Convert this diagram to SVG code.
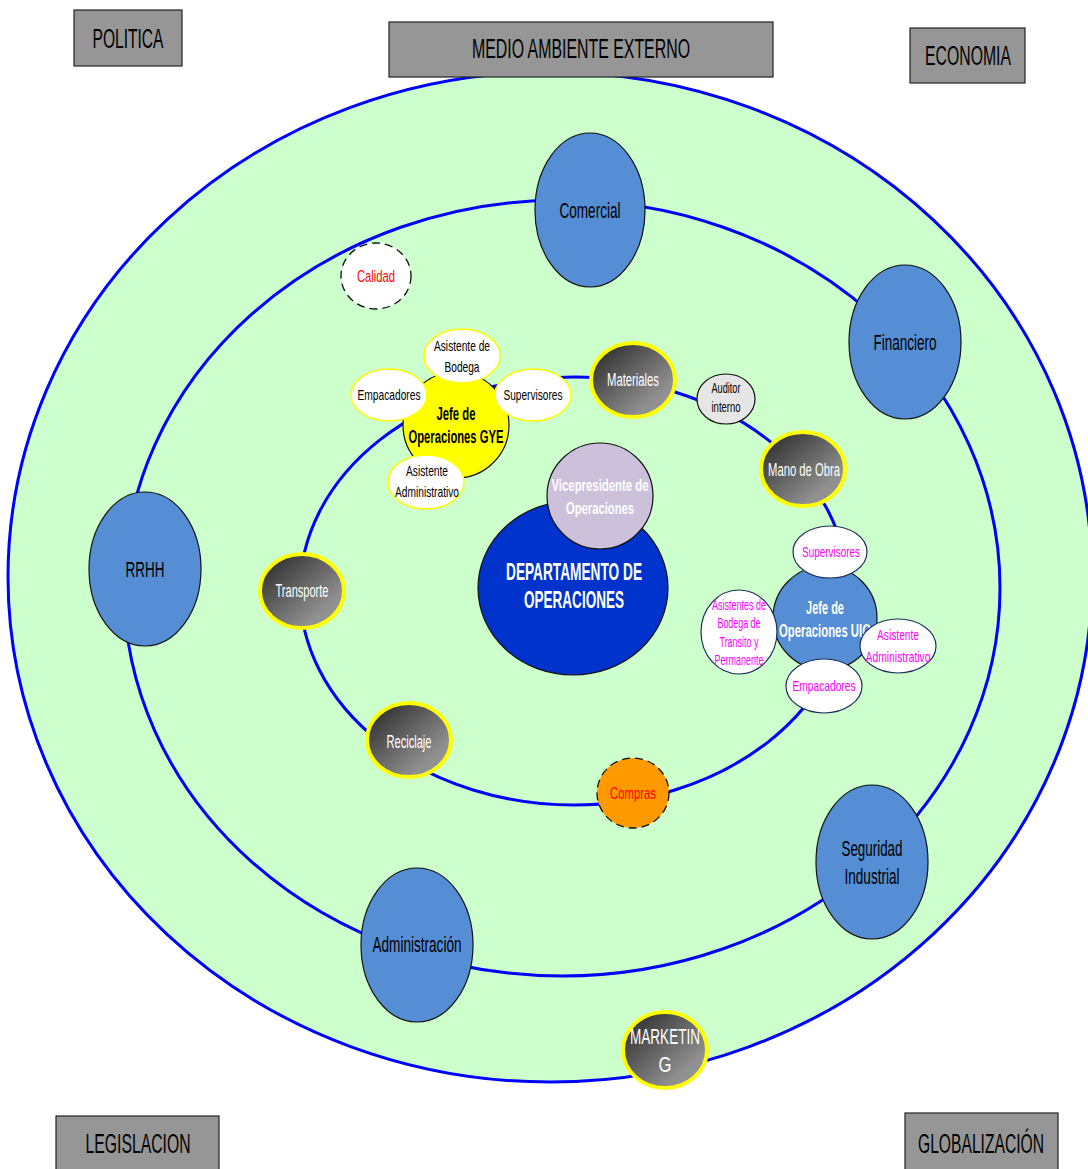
<svg xmlns="http://www.w3.org/2000/svg" width="1088" height="1169" viewBox="0 0 1088 1169">
<defs>
<linearGradient id="dark" x1="0" y1="0" x2="1" y2="1">
<stop offset="0" stop-color="#222"/>
<stop offset="0.75" stop-color="#8f8f8f"/>
<stop offset="1" stop-color="#9a9a9a"/>
</linearGradient>
<style>
text{font-family:"Liberation Sans",Arial,sans-serif;text-anchor:middle}
.box{fill:#969696;stroke:#222;stroke-width:1.2}
.bt{font-size:27px;fill:#000}
.orbit{fill:none;stroke:#0000ff;stroke-width:3}
.blue{fill:#558ed5;stroke:#111;stroke-width:1.2}
.bl{font-size:22px;fill:#000}
.dk{fill:url(#dark);stroke:#ffff00;stroke-width:4}
.dt{font-size:18px;fill:#fff}
.ys{fill:#fff;stroke:#ffff00;stroke-width:1.5}
.yt{font-size:15px;fill:#000}
.us{fill:#fff;stroke:#1f2f5f;stroke-width:1.2}
.ut{font-size:15px;fill:#ff00ff}
.dash{stroke:#111;stroke-width:1.3;stroke-dasharray:8 5}
</style>
</defs>
<rect width="1088" height="1169" fill="#fff"/>
<g id="connectors">
<ellipse cx="550" cy="577" rx="542" ry="505" fill="#ccffcc" stroke="#0000ff" stroke-width="3"/>
<ellipse class="orbit" cx="562" cy="588" rx="438" ry="388"/>
<ellipse class="orbit" cx="574" cy="591" rx="274" ry="214"/>
</g>
<g id="politica"><rect class="box" x="74" y="10" width="108" height="56"/><text class="bt" x="128" y="48" textLength="71" lengthAdjust="spacingAndGlyphs">POLITICA</text></g>
<g id="medio"><rect class="box" x="389" y="22" width="384" height="55"/><text class="bt" x="581" y="58" textLength="218" lengthAdjust="spacingAndGlyphs">MEDIO AMBIENTE EXTERNO</text></g>
<g id="economia"><rect class="box" x="910" y="28" width="115" height="55"/><text class="bt" x="968" y="65" textLength="86" lengthAdjust="spacingAndGlyphs">ECONOMIA</text></g>
<g id="legislacion"><rect class="box" x="56" y="1116" width="163" height="56"/><text class="bt" x="138" y="1153" textLength="105" lengthAdjust="spacingAndGlyphs">LEGISLACION</text></g>
<g id="globalizacion"><rect class="box" x="905" y="1113" width="153" height="59"/><text class="bt" x="981" y="1153" textLength="126" lengthAdjust="spacingAndGlyphs">GLOBALIZACIÓN</text></g>

<g id="comercial"><ellipse class="blue" cx="590" cy="210" rx="55" ry="77"/><text class="bl" x="590" y="218" textLength="61" lengthAdjust="spacingAndGlyphs">Comercial</text></g>
<g id="financiero"><ellipse class="blue" cx="905" cy="342" rx="56" ry="77"/><text class="bl" x="905" y="350" textLength="63" lengthAdjust="spacingAndGlyphs">Financiero</text></g>
<g id="rrhh"><ellipse class="blue" cx="145" cy="569" rx="56" ry="77"/><text class="bl" x="145" y="577" textLength="39" lengthAdjust="spacingAndGlyphs">RRHH</text></g>
<g id="seguridad"><ellipse class="blue" cx="872" cy="862" rx="56" ry="77"/><text class="bl" x="872" y="856" textLength="61" lengthAdjust="spacingAndGlyphs">Seguridad</text><text class="bl" x="872" y="884" textLength="55" lengthAdjust="spacingAndGlyphs">Industrial</text></g>
<g id="administracion"><ellipse class="blue" cx="417" cy="945" rx="56" ry="77"/><text class="bl" x="417" y="952" textLength="89" lengthAdjust="spacingAndGlyphs">Administración</text></g>

<g id="calidad"><ellipse class="dash" fill="#fff" cx="376" cy="276" rx="35" ry="33"/><text x="376" y="282" font-size="17" fill="#ff0000" textLength="38" lengthAdjust="spacingAndGlyphs">Calidad</text></g>

<g id="materiales"><ellipse class="dk" cx="633" cy="380" rx="42" ry="37"/><text class="dt" x="633" y="386" textLength="52" lengthAdjust="spacingAndGlyphs">Materiales</text></g>
<g id="auditor"><ellipse cx="726" cy="399" rx="29" ry="25" fill="#e6e6e6" stroke="#111" stroke-width="1.2"/><text class="yt" x="726" y="393" textLength="29" lengthAdjust="spacingAndGlyphs">Auditor</text><text class="yt" x="726" y="412" textLength="29" lengthAdjust="spacingAndGlyphs">interno</text></g>
<g id="manodeobra"><ellipse class="dk" cx="803" cy="469" rx="42" ry="37"/><text class="dt" x="804" y="476" textLength="72" lengthAdjust="spacingAndGlyphs">Mano de Obra</text></g>
<g id="transporte"><ellipse class="dk" cx="302" cy="591" rx="42" ry="37"/><text class="dt" x="302" y="597" textLength="53" lengthAdjust="spacingAndGlyphs">Transporte</text></g>
<g id="reciclaje"><ellipse class="dk" cx="409" cy="740" rx="42" ry="37"/><text class="dt" x="409" y="748" textLength="45" lengthAdjust="spacingAndGlyphs">Reciclaje</text></g>
<g id="compras"><ellipse class="dash" fill="#ff9900" cx="633" cy="793" rx="36" ry="35"/><text x="633" y="799" font-size="17" fill="#ff0000" textLength="46" lengthAdjust="spacingAndGlyphs">Compras</text></g>
<g id="marketing"><ellipse class="dk" cx="665" cy="1050" rx="42" ry="38"/><text x="665" y="1044" font-size="22" fill="#fff" textLength="70" lengthAdjust="spacingAndGlyphs">MARKETIN</text><text x="665" y="1072" font-size="22" fill="#fff" textLength="13" lengthAdjust="spacingAndGlyphs">G</text></g>

<g id="departamento"><ellipse cx="573" cy="588" rx="95" ry="87" fill="#0033cc" stroke="#111" stroke-width="1.2"/><text x="574" y="580" font-size="23" font-weight="bold" fill="#fff" textLength="136" lengthAdjust="spacingAndGlyphs">DEPARTAMENTO DE</text><text x="574" y="608" font-size="23" font-weight="bold" fill="#fff" textLength="100" lengthAdjust="spacingAndGlyphs">OPERACIONES</text></g>
<g id="vicepresidente"><ellipse cx="600" cy="496" rx="53" ry="53" fill="#ccc0da" stroke="#111" stroke-width="1.2"/><text x="600" y="491" font-size="17" font-weight="bold" fill="#fff" textLength="97" lengthAdjust="spacingAndGlyphs">Vicepresidente de</text><text x="600" y="514" font-size="17" font-weight="bold" fill="#fff" textLength="68" lengthAdjust="spacingAndGlyphs">Operaciones</text></g>

<g id="jefe-gye"><circle cx="456" cy="425" r="53" fill="#ffff00" stroke="#111" stroke-width="1.2"/><text x="456" y="420" font-size="18" font-weight="bold" fill="#000" textLength="39" lengthAdjust="spacingAndGlyphs">Jefe de</text><text x="456" y="443" font-size="18" font-weight="bold" fill="#000" textLength="95" lengthAdjust="spacingAndGlyphs">Operaciones GYE</text></g>
<g id="gye-bodega"><ellipse class="ys" cx="462" cy="356" rx="38" ry="27"/><text class="yt" x="462" y="351" textLength="56" lengthAdjust="spacingAndGlyphs">Asistente de</text><text class="yt" x="462" y="372" textLength="35" lengthAdjust="spacingAndGlyphs">Bodega</text></g>
<g id="gye-empacadores"><ellipse class="ys" cx="389" cy="395" rx="38" ry="26"/><text class="yt" x="389" y="400" textLength="63" lengthAdjust="spacingAndGlyphs">Empacadores</text></g>
<g id="gye-supervisores"><ellipse class="ys" cx="533" cy="395" rx="38" ry="26"/><text class="yt" x="533" y="400" textLength="59" lengthAdjust="spacingAndGlyphs">Supervisores</text></g>
<g id="gye-asistente"><ellipse class="ys" cx="426" cy="482" rx="38" ry="27"/><text class="yt" x="427" y="476" textLength="42" lengthAdjust="spacingAndGlyphs">Asistente</text><text class="yt" x="427" y="497" textLength="64" lengthAdjust="spacingAndGlyphs">Administrativo</text></g>

<g id="jefe-uio"><circle cx="825" cy="618" r="52" fill="#558ed5" stroke="#111" stroke-width="1.2"/><text x="825" y="614" font-size="18" font-weight="bold" fill="#fff" textLength="38" lengthAdjust="spacingAndGlyphs">Jefe de</text><text x="825" y="637" font-size="18" font-weight="bold" fill="#fff" textLength="92" lengthAdjust="spacingAndGlyphs">Operaciones UIO</text></g>
<g id="uio-supervisores"><ellipse class="us" cx="830" cy="552" rx="37" ry="26"/><text class="ut" x="831" y="557" textLength="58" lengthAdjust="spacingAndGlyphs">Supervisores</text></g>
<g id="uio-bodega"><ellipse class="us" cx="739" cy="632" rx="38" ry="42"/><text class="ut" x="739" y="610" font-size="14" textLength="54" lengthAdjust="spacingAndGlyphs">Asistentes de</text><text class="ut" x="739" y="628" font-size="14" textLength="43" lengthAdjust="spacingAndGlyphs">Bodega de</text><text class="ut" x="739" y="647" font-size="14" textLength="39" lengthAdjust="spacingAndGlyphs">Transito y</text><text class="ut" x="739" y="665" font-size="14" textLength="49" lengthAdjust="spacingAndGlyphs">Permanente</text></g>
<g id="uio-asistente"><ellipse class="us" cx="898" cy="646" rx="38" ry="27"/><text class="ut" x="898" y="640" textLength="42" lengthAdjust="spacingAndGlyphs">Asistente</text><text class="ut" x="898" y="662" textLength="65" lengthAdjust="spacingAndGlyphs">Administrativo</text></g>
<g id="uio-empacadores"><ellipse class="us" cx="824" cy="686" rx="38" ry="27"/><text class="ut" x="824" y="691" textLength="63" lengthAdjust="spacingAndGlyphs">Empacadores</text></g>
</svg>
